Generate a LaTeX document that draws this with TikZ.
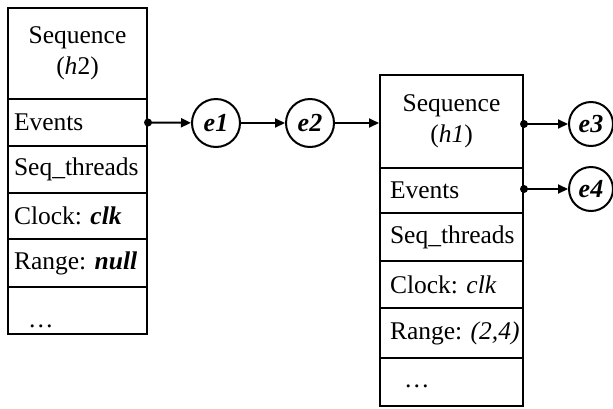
\documentclass[tikz,border=0pt]{standalone}
\usepackage{fontspec}
\setmainfont{Liberation Serif}
\usetikzlibrary{arrows.meta}
\tikzset{
  cell/.style={draw, line width=2pt, inner ysep=0pt, anchor=center,
    font=\fontsize{25.5}{31}\selectfont\frenchspacing},
  lrow/.style={cell, inner xsep=6pt, minimum width=139pt, text width=127pt, align=left},
  rrow/.style={cell, inner xsep=10pt, minimum width=143pt, text width=123pt, align=left},
  head/.style={cell, inner xsep=4pt, align=center},
  ev/.style={draw, circle, line width=2pt, minimum size=48pt, inner sep=0pt,
    font=\fontsize{26}{31}\selectfont\bfseries\itshape},
  arr/.style={line width=2pt, -{Triangle[length=10pt, width=9pt]}},
  dot/.style={circle, fill, inner sep=0pt, minimum size=8pt}
}
\begin{document}
\begin{tikzpicture}[x=1pt, y=-1pt]
\useasboundingbox (0,0) rectangle (613,408);
% left box
\node[head, minimum width=139pt, minimum height=91pt] (lh) at (77.5,53.5) {Sequence\\(\textit{h}2)};
\node[lrow, minimum height=47pt] (lev) at (77.5,122.5) {\mbox{Events}};
\node[lrow, minimum height=47pt] (lst) at (77.5,169.5) {\mbox{Seq\_threads}};
\node[lrow, minimum height=46pt] (lck) at (77.5,216) {\mbox{Clock: \textbf{\textit{clk}}}};
\node[lrow, minimum height=48pt] (lrg) at (77.5,263) {\mbox{Range: \textbf{\textit{null}}}};
\node[lrow, minimum height=47pt] (ldt) at (77.5,310.5) {\mbox{\hspace{14pt}\raisebox{-16pt}[\height][\depth]{\dots}}};
% right box
\node[head, minimum width=143pt, minimum height=93pt] (rh) at (451.5,121.5) {Sequence\\(\textit{h1})};
\node[rrow, minimum height=45pt] (rev) at (451.5,190.5) {\mbox{Events}};
\node[rrow, minimum height=48pt] (rst) at (451.5,237) {\mbox{Seq\_threads}};
\node[rrow, minimum height=47pt] (rck) at (451.5,284.5) {\mbox{Clock: \textit{clk}}};
\node[rrow, minimum height=50pt] (rrg) at (451.5,333) {\mbox{Range: \textit{(2,4)}}};
\node[rrow, minimum height=48pt] (rdt) at (451.5,382) {\mbox{\hspace{14pt}\raisebox{-4pt}[\height][\depth]{\dots}}};
% events
\node[ev] (e1) at (216,123) {e1};
\node[ev] (e2) at (310,123) {e2};
\node[ev, minimum size=44pt] (e3) at (591,124) {e3};
\node[ev, minimum size=44pt] (e4) at (591,189) {e4};
% dots
\node[dot] (d1) at (lev.east) {};
\node[dot] (d2) at (rh.east |- e3) {};
\node[dot] (d3) at (rev.east |- e4) {};
% connectors
\draw[arr] (d1.center) -- (e1);
\draw[arr] (e1) -- (e2);
\draw[arr] (e2) -- (e2 -| rh.west);
\draw[arr] (d2.center) -- (e3);
\draw[arr] (d3.center) -- (e4);
\end{tikzpicture}
\end{document}
